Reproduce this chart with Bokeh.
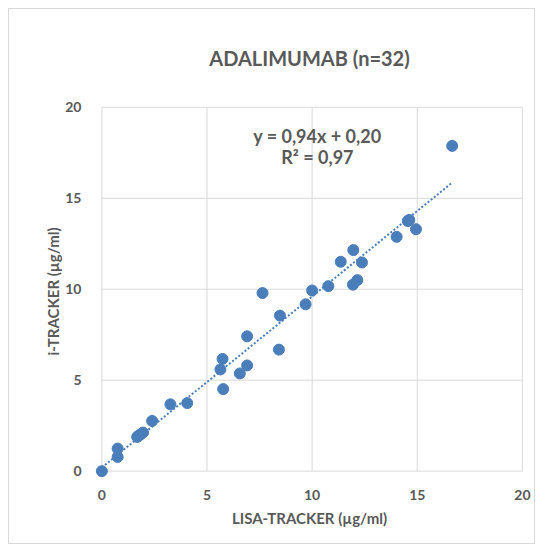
from bokeh.plotting import figure
from bokeh.models import Label, Range1d, FixedTicker
from bokeh.embed import file_html
from bokeh.resources import INLINE

# Data
lisa_tracker = [0.0, 0.75, 0.75, 1.68, 1.75, 1.83, 1.96, 2.39, 3.26, 4.06,
                5.77, 5.64, 5.74, 6.56, 6.91, 6.91, 7.64, 8.42, 8.47, 9.69,
                10.0, 10.77, 11.94, 12.15, 11.36, 11.96, 12.37, 14.02, 14.55,
                14.62, 14.94, 16.66]
i_tracker = [0.0, 0.78, 1.24, 1.88, 1.95, 2.01, 2.12, 2.76, 3.67, 3.74,
             4.51, 5.59, 6.17, 5.37, 5.81, 7.41, 9.79, 6.68, 8.55, 9.17,
             9.93, 10.17, 10.25, 10.5, 11.51, 12.15, 11.47, 12.88, 13.75,
             13.81, 13.3, 17.88]
slope = 0.94
intercept = 0.20
eq_text = "y = 0,94x + 0,20"
r2_text = "R² = 0,97"
title_text = "ADALIMUMAB (n=32)"
x_label = "LISA-TRACKER (µg/ml)"
y_label = "i-TRACKER (µg/ml)"
ticks = [0, 5, 10, 15, 20]

FONT = "Lato"
TXT = "#595959"
GRID = "#d9d9d9"
BLUE = "#4a7ebb"

p = figure(width=527, height=536, output_backend="svg", toolbar_location=None,
           x_range=Range1d(-0.35, 20.1), y_range=Range1d(-0.35, 20.1),
           min_border_left=85, min_border_right=12, min_border_top=95,
           min_border_bottom=68, title=title_text)
p.styles = {"border": "1px solid #d9d9d9", "margin-left": "8px", "margin-top": "8px"}
p.outline_line_color = None
p.background_fill_color = "white"
p.border_fill_color = "white"

p.title.align = "center"
p.title.vertical_align = "middle"
p.title.text_font = FONT
p.title.text_font_size = "20px"
p.title.text_font_style = "bold"
p.title.text_color = TXT
p.title.standoff = 70

for ax in (p.xaxis[0], p.yaxis[0]):
    ax.ticker = FixedTicker(ticks=ticks)
    ax.axis_line_color = None
    ax.major_tick_line_color = None
    ax.minor_tick_line_color = None
    ax.major_label_text_font = FONT
    ax.major_label_text_font_size = "14px"
    ax.major_label_text_font_style = "bold"
    ax.major_label_text_color = TXT
    ax.axis_label_text_font = FONT
    ax.axis_label_text_font_size = "15px"
    ax.axis_label_text_font_style = "bold"
    ax.axis_label_text_color = TXT

p.xaxis.axis_label = x_label
p.yaxis.axis_label = y_label
p.xaxis.major_label_standoff = 6
p.xaxis.axis_label_standoff = 6
p.yaxis.major_label_standoff = 7
p.yaxis.axis_label_standoff = 0

p.xgrid.visible = False
p.ygrid.visible = False

# Gridlines and plot-area box (0..20 in both directions)
lo, hi = ticks[0], ticks[-1]
p.segment(x0=ticks, y0=[lo] * len(ticks), x1=ticks, y1=[hi] * len(ticks),
          line_color=GRID, line_width=1)
p.segment(x0=[lo] * len(ticks), y0=ticks, x1=[hi] * len(ticks), y1=ticks,
          line_color=GRID, line_width=1)

# Trendline
xmax = max(lisa_tracker)
tx = [0, xmax]
ty = [intercept + slope * v for v in tx]
p.line(tx, ty, line_color=BLUE, line_width=2, line_dash="2 2")

p.scatter(lisa_tracker, i_tracker, size=11, fill_color=BLUE, line_color=BLUE)

p.add_layout(Label(x=10.25, y=18.4, text=eq_text, text_align="center",
                   text_baseline="middle", text_font=FONT, text_font_size="18px",
                   text_font_style="bold", text_color=TXT))
p.add_layout(Label(x=10.25, y=17.25, text=r2_text, text_align="center",
                   text_baseline="middle", text_font=FONT, text_font_size="18px",
                   text_font_style="bold", text_color=TXT))

open("out.html", "w").write(file_html(p, INLINE))
